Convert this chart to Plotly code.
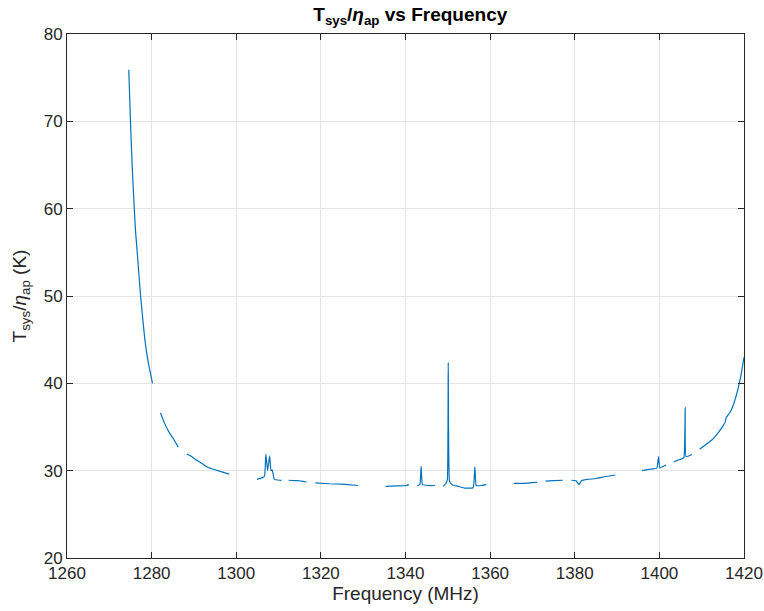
import plotly.graph_objects as go

N = None
freq_mhz = [
    1274.6, 1274.8, 1275.0, 1275.2, 1275.4, 1275.65, 1275.9, 1276.2, 1276.6, 1277.0, 1277.4, 1277.9, 1278.4, 1278.8, 1279.2, 1279.7, 1280.2, N,
    1282.1, 1283.0, 1284.0, 1285.2, 1286.3, N,
    1288.3, 1289.5, 1290.6, 1292.0, 1293.0, 1295.0, 1297.0, 1298.3, N,
    1304.9, 1306.2, 1306.7, 1307.0, 1307.4, 1307.9, 1308.2, 1308.5, 1309.0, 1310.3, 1310.7, N,
    1312.4, 1314.5, 1316.6, N,
    1318.7, 1322.0, 1325.0, 1328.8, N,
    1335.3, 1338.0, 1340.2, 1340.8, N,
    1342.8, 1343.4, 1343.7, 1344.0, 1345.5, 1347.0, N,
    1348.9, 1349.5, 1349.9, 1350.1, 1350.4, 1351.0, 1352.5, 1354.0, 1356.0, 1356.4, 1356.7, 1358.0, 1359.1, N,
    1365.6, 1368.0, 1371.1, N,
    1373.1, 1375.0, 1377.2, N,
    1379.2, 1380.3, 1381.0, 1381.6, 1383.0, 1385.0, 1387.0, 1389.6, N,
    1395.9, 1397.5, 1399.4, 1399.8, 1400.1, 1401.6, N,
    1403.4, 1405.0, 1405.8, 1406.1, 1406.3, 1407.7, N,
    1409.5, 1411.0, 1412.6, 1414.0, 1415.0, 1415.5, 1415.8, 1416.6, 1417.3, 1418.0, 1418.5, 1419.2, 1419.7, 1420.0,
]
tsys_over_eta = [
    75.9, 73.0, 70.0, 67.4, 65.0, 62.4, 60.0, 57.4, 55.0, 52.4, 50.0, 47.4, 45.0, 43.6, 42.4, 41.2, 40.0, N,
    36.6, 35.5, 34.5, 33.6, 32.7, N,
    31.9, 31.6, 31.2, 30.8, 30.45, 30.1, 29.8, 29.6, N,
    29.0, 29.2, 29.4, 31.9, 30.0, 31.7, 30.0, 30.1, 29.0, 28.9, 28.9, N,
    28.9, 28.85, 28.7, N,
    28.6, 28.5, 28.45, 28.3, N,
    28.2, 28.25, 28.3, 28.4, N,
    28.3, 28.4, 30.5, 28.4, 28.3, 28.3, N,
    28.2, 28.5, 29.0, 42.4, 28.8, 28.4, 28.2, 28.0, 28.05, 30.45, 28.3, 28.3, 28.4, N,
    28.55, 28.55, 28.65, N,
    28.8, 28.85, 28.9, N,
    28.9, 28.85, 28.4, 28.85, 29.0, 29.1, 29.3, 29.5, N,
    30.0, 30.15, 30.3, 31.6, 30.35, 30.65, N,
    31.0, 31.3, 31.5, 37.25, 31.6, 31.85, N,
    32.45, 33.0, 33.6, 34.4, 35.1, 35.5, 36.1, 36.6, 37.3, 38.3, 39.2, 40.7, 42.1, 43.0,
]
x_ticks = [1260, 1280, 1300, 1320, 1340, 1360, 1380, 1400, 1420]
y_ticks = [20, 30, 40, 50, 60, 70, 80]

fig = go.Figure()
fig.add_trace(go.Scatter(
    x=freq_mhz, y=tsys_over_eta, mode="lines",
    line=dict(color="#0072BD", width=1.2, shape="spline", smoothing=0.3), connectgaps=False,
    showlegend=False, hoverinfo="skip",
))

font_family = "Liberation Sans, Arial, Helvetica, sans-serif"
axis_common = dict(
    showline=True, linecolor="#262626", linewidth=1, mirror="ticks",
    ticks="inside", ticklen=6, tickcolor="#262626", tickwidth=1,
    showgrid=True, gridcolor="#e5e5e5", gridwidth=1, zeroline=False,
    automargin=False,
    tickfont=dict(family=font_family, size=17, color="#262626"),
)
fig.update_layout(
    width=764, height=611,
    margin=dict(l=67, r=20, t=34, b=53),
    paper_bgcolor="white", plot_bgcolor="white",
    font=dict(family=font_family, color="#262626"),
    title=dict(
        text="<b>T<sub>sys</sub>/<i>η</i><sub>ap</sub> vs Frequency</b>",
        x=0.537, xanchor="center", y=0.988, yanchor="top",
        font=dict(family=font_family, size=19, color="black"),
    ),
    xaxis=dict(range=[1260, 1420], tickvals=x_ticks,
               title=dict(text="Frequency (MHz)", standoff=4,
                          font=dict(family=font_family, size=19, color="#262626")),
               **axis_common),
    yaxis=dict(range=[20, 80], tickvals=y_ticks,
               title=dict(text="T<sub>sys</sub>/<i>η</i><sub>ap</sub> (K)", standoff=12,
                          font=dict(family=font_family, size=19, color="#262626")),
               **axis_common),
)
fig.write_html("out.html")
